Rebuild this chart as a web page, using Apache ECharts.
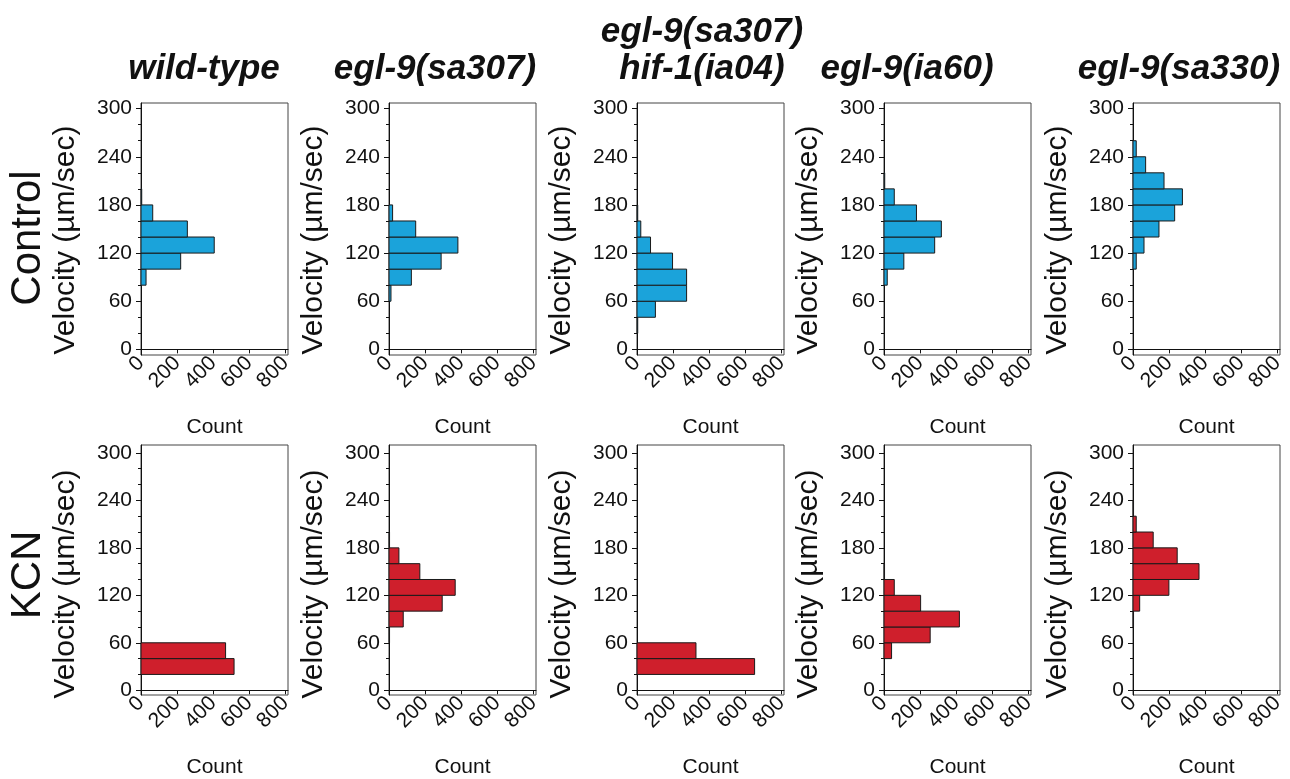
<!DOCTYPE html>
<html>
<head>
<meta charset="utf-8">
<style>
html,body{margin:0;padding:0;background:#fff;}
#chart{width:1290px;height:779px;}
</style>
<script src="https://cdn.jsdelivr.net/npm/echarts@6/dist/echarts.min.js"></script>
</head>
<body>
<div id="chart"></div>
<script>
// ---- Data ----
const genotypes = ['wild-type', 'egl-9(sa307)', 'egl-9(sa307)\nhif-1(ia04)', 'egl-9(ia60)', 'egl-9(sa330)'];
const conditions = ['Control', 'KCN'];
const binWidth = 20;
const yTickLabels = [0, 60, 120, 180, 240, 300];
const xTickLabels = [0, 200, 400, 600, 800];

// Control row: bin starts (µm/sec) and counts
const ctrlWildTypeBins   = [80, 100, 120, 140, 160, 180];
const ctrlWildTypeCounts = [28, 220, 406, 257, 65, 4];
const ctrlSa307Bins      = [60, 80, 100, 120, 140, 160];
const ctrlSa307Counts    = [11, 124, 289, 382, 148, 20];
const ctrlDoubleBins     = [20, 40, 60, 80, 100, 120, 140, 160];
const ctrlDoubleCounts   = [4, 102, 275, 275, 197, 75, 21, 4];
const ctrlIa60Bins       = [80, 100, 120, 140, 160, 180, 200];
const ctrlIa60Counts     = [18, 110, 281, 318, 180, 57, 4];
const ctrlSa330Bins      = [100, 120, 140, 160, 180, 200, 220, 240];
const ctrlSa330Counts    = [18, 61, 144, 231, 274, 172, 70, 18];

// KCN row
const kcnWildTypeBins    = [20, 40];
const kcnWildTypeCounts  = [516, 469];
const kcnSa307Bins       = [60, 80, 100, 120, 140, 160, 180];
const kcnSa307Counts     = [3, 79, 295, 367, 171, 55, 3];
const kcnDoubleBins      = [20, 40];
const kcnDoubleCounts    = [652, 327];
const kcnIa60Bins        = [40, 60, 80, 100, 120, 140];
const kcnIa60Counts      = [42, 256, 418, 203, 57, 3];
const kcnSa330Bins       = [80, 100, 120, 140, 160, 180, 200, 220];
const kcnSa330Counts     = [3, 37, 199, 366, 245, 112, 18, 3];

const panels = [
  [[ctrlWildTypeBins, ctrlWildTypeCounts], [ctrlSa307Bins, ctrlSa307Counts], [ctrlDoubleBins, ctrlDoubleCounts], [ctrlIa60Bins, ctrlIa60Counts], [ctrlSa330Bins, ctrlSa330Counts]],
  [[kcnWildTypeBins, kcnWildTypeCounts], [kcnSa307Bins, kcnSa307Counts], [kcnDoubleBins, kcnDoubleCounts], [kcnIa60Bins, kcnIa60Counts], [kcnSa330Bins, kcnSa330Counts]]
];

// ---- Layout / style ----
const FONT = 'Liberation Sans, Arial, sans-serif';
const rowColors = ['#1ba3da', '#cf1f2c'];
const colLeft = [141, 389, 637, 884, 1133];
const colWidth = 147;
const rowTop = [103, 445];
const rowHeight = [252, 253];
const rowYMin = [-7, -6];
const rowYMax = [307, 310];
const rowNameShift = [22, 28];
const titleCenters = [204, 435, 702, 907, 1179];

const minorTicks = [];
for (let v = 0; v <= 300; v += 20) if (v % 60 !== 0) minorTicks.push(v);

const grids = [], xAxes = [], yAxes = [], series = [];
let gi = 0;
for (let r = 0; r < 2; r++) {
  for (let c = 0; c < 5; c++) {
    grids.push({left: colLeft[c], top: rowTop[r], width: colWidth, height: rowHeight[r],
      show: true, borderColor: '#444', borderWidth: 1, backgroundColor: '#fff'});
    xAxes.push({
      gridIndex: gi, type: 'value', min: 0, max: 815,
      name: 'Count', nameLocation: 'middle', nameGap: 62,
      nameTextStyle: {fontFamily: FONT, fontSize: 21, color: '#111'},
      axisLine: {show: true, lineStyle: {color: '#111', width: 1}},
      axisTick: {show: true, length: 4, customValues: xTickLabels, lineStyle: {color: '#111'}},
      axisLabel: {show: true, rotate: 45, margin: 5, customValues: xTickLabels,
        fontFamily: FONT, fontSize: 21, color: '#111'},
      splitLine: {show: false}
    });
    yAxes.push({
      gridIndex: gi, type: 'value', min: rowYMin[r], max: rowYMax[r], position: 'left',
      name: 'Velocity (\u00b5m/sec)', nameLocation: 'middle', nameGap: 60,
      nameTextStyle: {fontFamily: FONT, fontSize: 30, color: '#111',
        padding: [0, rowNameShift[r], 0, 0]},
      axisLine: {show: true, lineStyle: {color: '#111', width: 1}},
      axisTick: {show: true, length: 5, customValues: yTickLabels, lineStyle: {color: '#111'}},
      axisLabel: {show: true, margin: 9, customValues: yTickLabels,
        fontFamily: FONT, fontSize: 21, color: '#111'},
      splitLine: {show: false}
    });
    yAxes.push({
      gridIndex: gi, type: 'value', min: rowYMin[r], max: rowYMax[r], position: 'left',
      axisLine: {show: false},
      axisTick: {show: true, length: 3, customValues: minorTicks, lineStyle: {color: '#111'}},
      axisLabel: {show: false},
      splitLine: {show: false}
    });
    const bins = panels[r][c][0], counts = panels[r][c][1];
    const data = bins.map((b, i) => [b, b + binWidth, counts[i]]);
    const color = rowColors[r];
    series.push({
      type: 'custom', xAxisIndex: gi, yAxisIndex: gi * 2,
      encode: {x: 2, y: [0, 1]},
      data: data,
      renderItem: function (params, api) {
        const lo = api.value(0), hi = api.value(1), cnt = api.value(2);
        const p0 = api.coord([0, hi]);
        const p1 = api.coord([cnt, lo]);
        return {type: 'rect',
          shape: {x: p0[0], y: p0[1], width: p1[0] - p0[0], height: p1[1] - p0[1]},
          style: {fill: color, stroke: '#1a1a1a', lineWidth: 1}};
      }
    });
    gi++;
  }
}

const graphics = [];
genotypes.forEach((g, c) => {
  const lines = g.split('\n');
  lines.forEach((ln, k) => {
    const y = 69 - (lines.length - 1 - k) * 37;
    graphics.push({type: 'text', x: titleCenters[c], y: y,
      style: {text: ln, fontFamily: FONT, fontSize: 35, fontWeight: 'bold', fontStyle: 'italic',
        fill: '#111', textAlign: 'center', textVerticalAlign: 'middle'}});
  });
});
const rowLabelY = [238, 575];
conditions.forEach((t, r) => {
  graphics.push({type: 'text', x: 28, y: rowLabelY[r], rotation: Math.PI / 2,
    style: {text: t, fontFamily: FONT, fontSize: 42, fill: '#111',
      textAlign: 'center', textVerticalAlign: 'middle'}});
});

const chart = echarts.init(document.getElementById('chart'), null, {renderer: 'canvas'});
chart.setOption({
  animation: false,
  backgroundColor: '#fff',
  grid: grids, xAxis: xAxes, yAxis: yAxes, series: series,
  graphic: graphics
});
</script>
</body>
</html>
